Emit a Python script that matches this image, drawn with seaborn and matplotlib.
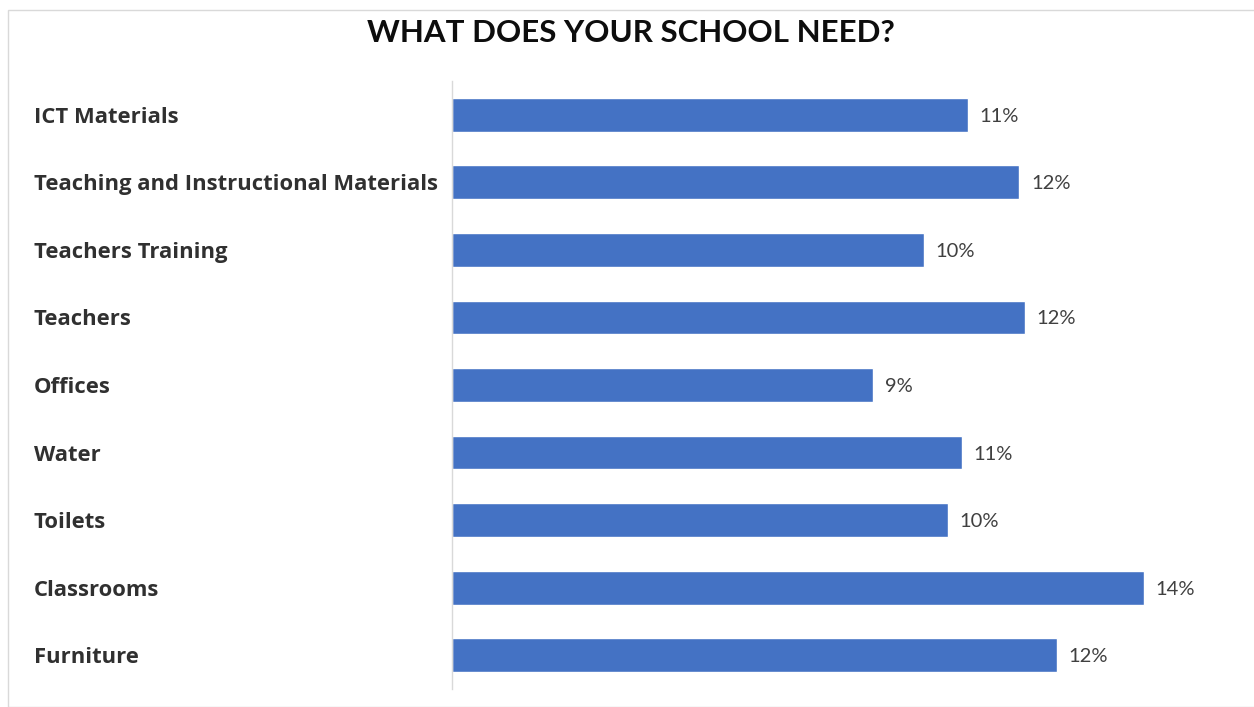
import matplotlib
matplotlib.use("Agg")
import matplotlib.pyplot as plt
from matplotlib.patches import Rectangle
import seaborn as sns
import pandas as pd

# Share of responses per school need (percent)
needs = ["ICT Materials", "Teaching and Instructional Materials", "Teachers Training",
         "Teachers", "Offices", "Water", "Toilets", "Classrooms", "Furniture"]
shares = [10.63, 11.70, 9.73, 11.81, 8.68, 10.51, 10.22, 14.26, 12.47]

df = pd.DataFrame({"need": needs, "share": shares})

sns.set_theme(style="white")
plt.rcParams["font.family"] = ["Lato", "DejaVu Sans"]

W, H = 1254, 707
fig = plt.figure(figsize=(W / 100, H / 100), dpi=100)
ax = fig.add_axes([452 / W, 1 - 689 / H, (1228 - 452) / W, (689 - 81) / H])

sns.barplot(data=df, x="share", y="need", orient="h", color="#4472C4",
            width=0.5, saturation=1, ax=ax)

ax.set_xlim(0, 16)
ax.set_xlabel("")
ax.set_ylabel("")
ax.set_xticks([])
for side in ["top", "right", "bottom"]:
    ax.spines[side].set_visible(False)
ax.spines["left"].set_color("#d9d9d9")
ax.spines["left"].set_linewidth(1.0)

ax.tick_params(axis="y", length=0, pad=(452 - 34) * 0.72)
for lbl in ax.get_yticklabels():
    lbl.set_horizontalalignment("left")
    lbl.set_verticalalignment("center_baseline")
    lbl.set_family(["Open Sans", "DejaVu Sans"])
    lbl.set_fontweight("bold")
    lbl.set_fontsize(15.8)
    lbl.set_color("#303030")

for i, v in enumerate(shares):
    ax.annotate(f"{round(v)}%", xy=(v, i), xytext=(8.5, 0), textcoords="offset points",
                va="center_baseline", ha="left", fontsize=14.5, color="#404040")

fig.text(631 / W, 1 - 33 / H, "WHAT DOES YOUR SCHOOL NEED?", ha="center", va="center",
         fontsize=22.5, fontweight="bold", color="#0d0d0d")

fig.patches.append(Rectangle((8 / W, 0), 1.2, 1 - 10 / H, transform=fig.transFigure,
                             fill=False, edgecolor="#d9d9d9", linewidth=1.0))

fig.savefig("out.png", dpi=100)
